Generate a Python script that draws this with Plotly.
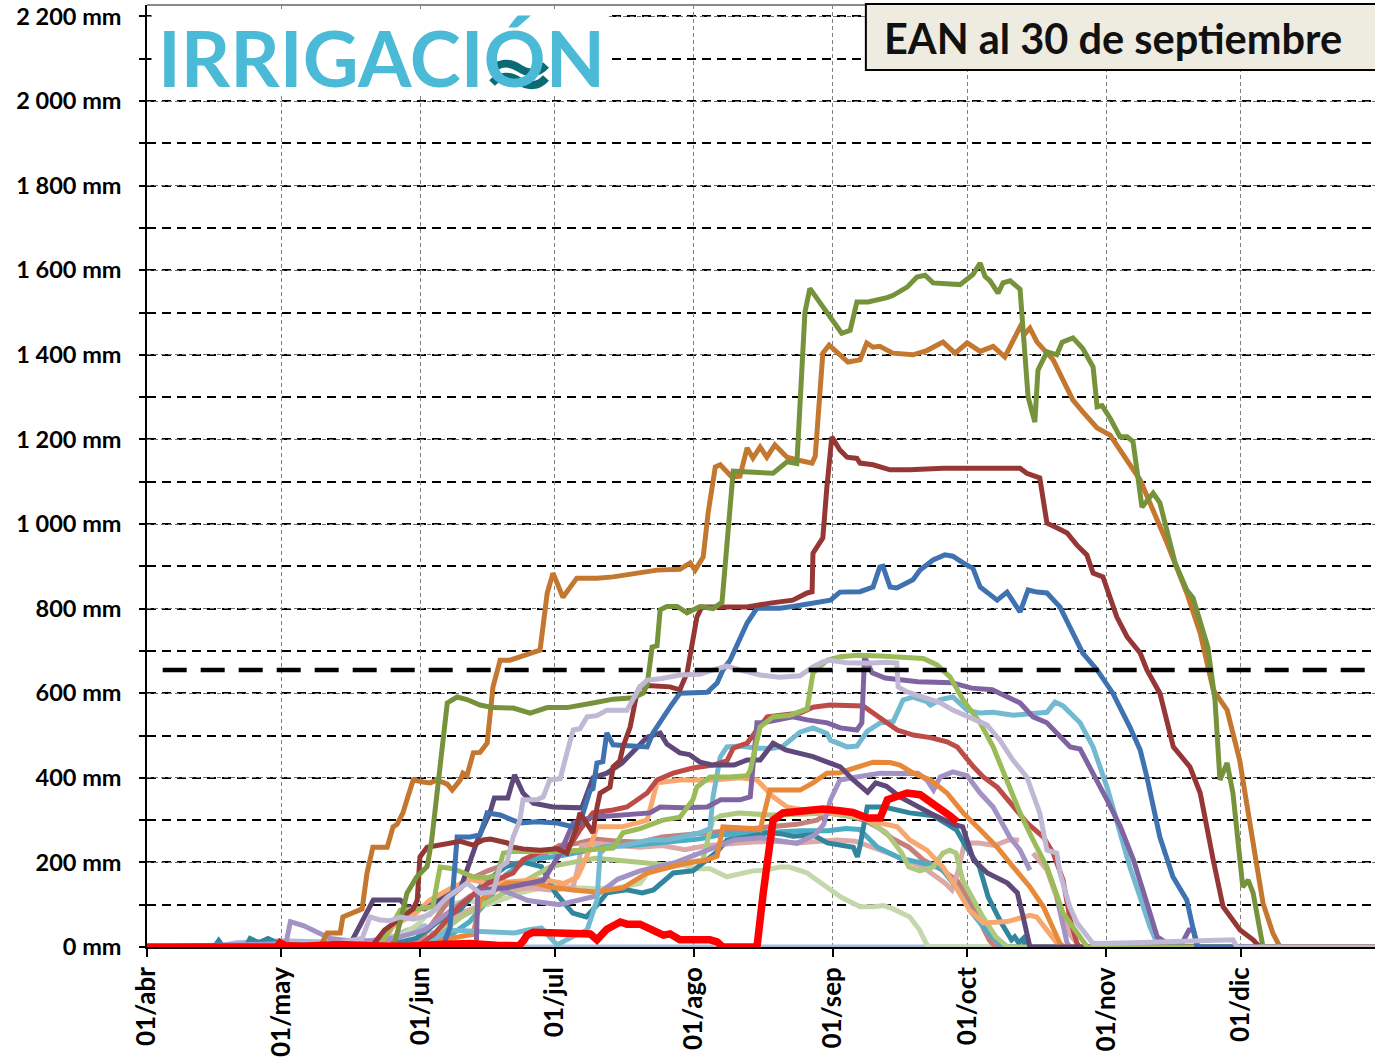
import plotly.graph_objects as go

# x = days since 1 April; y = mm
MONTH_TICKS = [0, 30, 61, 91, 122, 153, 183, 214, 244]
MONTH_LABELS = ["01/abr", "01/may", "01/jun", "01/jul", "01/ago", "01/sep", "01/oct", "01/nov", "01/dic"]
Y_TICKS = [0, 200, 400, 600, 800, 1000, 1200, 1400, 1600, 1800, 2000, 2200]
Y_LABELS = ["0 mm", "200 mm", "400 mm", "600 mm", "800 mm", "1 000 mm", "1 200 mm", "1 400 mm",
            "1 600 mm", "1 800 mm", "2 000 mm", "2 200 mm"]
THRESHOLD_MM = 655
TITLE = "EAN al 30 de septiembre"
LOGO = "IRRIGACIÓN"

A_X = [0, 55, 56.5, 58, 60.2, 62.5, 63.5, 65.4, 67, 69.2, 71.4, 74.3, 77.2, 81.7, 85.5, 89.3, 93.7, 99.5, 104, 108.5,
       110.7, 111.6, 112.7, 113.8, 114.5, 116, 118.3, 120.5, 123.4, 126.3, 128.3, 130.8, 139.7, 142.8, 145, 146.8,
       147.9, 155, 156.9, 158.4, 160.9, 165.1, 166.4, 169.6, 171.8, 173.6, 175.4, 181.4, 184.3, 185.9, 187, 188.1,
       189.9, 191, 192.6, 194.8, 196.6, 198.1, 198.8, 200.8, 203, 204.2, 206.6, 208.8, 211.1, 212, 213.1, 214.9,
       217.1, 218.7, 220, 221.1, 222, 224.5, 226, 229.4, 232, 233.4, 236.7, 238.3, 239.4, 241, 242.3, 244.5, 245.7,
       246.8, 249, 274]
A_Y = [0, 0, 60, 127, 166, 190, 250, 442, 577, 591, 585, 572, 566, 565, 553, 566, 566, 577, 586, 589,
       600, 620, 709, 712, 797, 805, 805, 790, 805, 800, 815, 1125, 1120, 1147, 1143, 1500,
       1557, 1451, 1458, 1525, 1525, 1535, 1540, 1560, 1584, 1588, 1570, 1566, 1590, 1617, 1585, 1575,
       1546, 1570, 1575, 1555, 1300, 1241, 1364, 1407, 1400, 1430, 1440, 1415, 1371, 1277, 1280, 1250,
       1206, 1206, 1195, 1111, 1040, 1073, 1050, 908, 844, 825, 709, 584, 395, 435, 364, 142, 158,
       128, 0, 0]

B_X = [0, 38.6, 40.2, 43.1, 43.7, 46.9, 48, 49.1, 50.4, 53.6, 54.9, 55.8, 57.1, 58, 59.4, 61.6, 63.2, 64.7, 67,
       68.1, 69.9, 70.5, 71.4, 72.8, 74.3, 75.9, 77.2, 78.8, 81, 83.2, 87.7, 89.3, 90.6, 92.8, 95.9, 100.4, 104,
       113.8, 118.9, 121.2, 122.3, 124.1, 125.2, 126.8, 127.9, 130.5, 132.3, 133.9, 135.2, 136.8, 138.3, 140.1,
       142.8, 145.7, 148.4, 149.1, 150.8, 152.2, 154.6, 156.4, 159.1, 160.6, 162, 163.5, 166.4, 170.9, 174,
       177.6, 180.3, 183, 185.9, 188.8, 191.4, 194.8, 195.9, 197, 198.6, 202.2, 204.4, 206.6, 208.8, 212,
       214.9, 217.1, 221.6, 227.6, 232, 235, 237.9, 241, 243.8, 246.8, 249, 251.2, 252.8, 274]
B_Y = [0, 0, 33, 33, 71, 87, 90, 175, 236, 236, 284, 290, 317, 348, 395, 390, 388, 395, 385,
       371, 395, 411, 405, 459, 460, 482, 615, 678, 678, 686, 702, 837, 884, 827, 872, 872, 875,
       891, 893, 908, 891, 922, 1026, 1135, 1140, 1111, 1113, 1180, 1156, 1182, 1158, 1187,
       1158, 1150, 1144, 1160, 1404, 1423, 1400, 1383, 1388, 1428, 1418, 1420, 1404, 1400, 1410,
       1430, 1404, 1428, 1408, 1420, 1395, 1466, 1450, 1463, 1430, 1388, 1340, 1293, 1265, 1227,
       1210, 1175, 1104, 955, 837, 742, 608, 560, 442, 246, 104, 33, 0, 0]

C_X = [0, 50, 53, 57, 59.4, 60.3, 60.9, 62.5, 67, 69.9, 72.8, 75, 76.6, 80.4, 81.7, 83.9, 87.7, 91.5, 93.7,
       95.9, 96.6, 98.2, 99.5, 100.4, 101.1, 103.3, 104, 105.5, 106.2, 107.8, 109.3, 110, 111.6, 116.7, 118.9,
       120.5, 121.6, 122.7, 123.8, 129.4, 133.9, 139, 144.1, 147.3, 148.4, 148.6, 150.8, 151.7, 152.8, 154.6,
       156.2, 158.4, 159.1, 162, 165.8, 170.2, 177.6, 194.8, 196.3, 199.2, 200.8, 203, 205.3, 207.5, 209.7,
       211.1, 213.3, 216.4, 218.7, 221.6, 223.1, 226, 229, 232.7, 235, 237.9, 240.1, 243.9, 246.8, 248.3, 274]
C_Y = [0, 0, 40, 70, 90, 111, 213, 236, 246, 250, 241, 253, 255, 246, 236, 232, 229, 232, 222,
       284, 317, 290, 270, 330, 364, 378, 426, 440, 473, 520, 600, 615, 618, 615, 608,
       648, 719, 780, 804, 804, 804, 813, 820, 837, 840, 931, 967, 1087, 1206, 1175,
       1158, 1155, 1144, 1140, 1128, 1128, 1132, 1132, 1120, 1109, 1002, 991, 979, 950, 927,
       884, 875, 780, 733, 695, 655, 600, 473, 426, 364, 206, 95, 40, 17, 0, 0]

D_X = [0, 66, 67.6, 69.2, 72.1, 74.3, 75.9, 78.8, 83.2, 87, 91.5, 95.1, 96.6, 98.9, 99.5, 100.4, 101.7, 102.6,
       104, 108.4, 111.6, 112.9, 115.1, 116.7, 118.9, 125, 127.2, 128.5, 130.1, 132.3, 133.9, 136.1, 141.2,
       144.1, 148.6, 152.5, 154.6, 159.1, 162, 163.5, 164.2, 165.8, 167.3, 170.9, 172.5, 175.4, 178, 179.8,
       182.1, 184.3, 185.9, 188.8, 189.7, 191.9, 194.8, 196.6, 198.6, 200.8, 203.7, 205.9, 208.8, 212, 215.5,
       219.3, 221.6, 223.1, 226, 228.9, 232, 234.3, 274]
D_Y = [0, 0, 47, 260, 260, 265, 317, 312, 293, 296, 293, 284, 293, 371, 374, 435, 438, 506,
       478, 475, 473, 506, 544, 567, 600, 602, 624, 655, 678, 733, 766, 801, 801,
       805, 813, 820, 839, 840, 851, 898, 900, 851, 849, 868, 891, 915, 927, 924,
       908, 895, 851, 825, 820, 839, 792, 844, 839, 837, 804, 757, 695, 655, 600,
       520, 466, 402, 260, 166, 111, 0, 0]

E_X = [0, 40, 48, 49.8, 52, 54.2, 56.5, 59.4, 63.1, 67, 71.4, 74.3, 77.2, 78.8, 80.3, 81.7, 83.2, 83.9, 87,
       88.4, 89.9, 92.2, 93.7, 95.1, 96.6, 98.2, 100.4, 102.6, 107.1, 108.4, 110, 111.6, 114.5, 118.9, 123.4,
       126.3, 129.4, 132.3, 136.8, 141.2, 145.7, 148.6, 150.8, 152.4, 156.2, 160.7, 165.1, 167.3, 167.6,
       169.6, 173.1, 176.9, 179.8, 183, 187.4, 190.3, 193.2, 196.3, 199.2, 200.8, 203, 203.7, 205.9, 207.5,
       209.7, 211.1, 220, 230, 242.3, 243.2, 274]
E_Y = [0, 5, 20, 71, 64, 62, 71, 66, 76, 118, 151, 127, 130, 189, 200, 260, 300, 348, 348,
       355, 395, 398, 459, 513, 516, 544, 547, 560, 560, 584, 615, 631, 634, 643, 645,
       655, 664, 655, 643, 638, 641, 662, 674, 678, 672, 671, 673, 671, 615,
       603, 591, 578, 560, 544, 525, 489, 442, 402, 317, 229, 222, 175, 95, 57,
       24, 8, 10, 12, 17, 0, 0]

F_X = [0, 52, 54, 56.5, 60, 63.8, 64.7, 65.4, 68.3, 72.8, 75.9, 78.1, 79.5, 81.7, 92.2, 99.5, 104, 106.2, 110,
       115.1, 118.9, 121.8, 122.7, 125.6, 130.1, 133.9, 134.6, 136.8, 139.7, 143.5, 146.4, 147.3, 148.6,
       151.8, 154.7, 158.5, 163.6, 168.7, 173.2, 176.3, 179.2, 182.1, 185.9, 188.8, 191.9, 194.8, 197.7,
       200.8, 204.4, 206.6, 209.8, 274]
F_Y = [0, 0, 40, 87, 90, 95, 150, 189, 185, 166, 164, 170, 222, 226, 226, 230, 234, 270, 280,
       300, 307, 348, 378, 402, 402, 405, 418, 520, 544, 548, 560, 563, 648,
       678, 686, 690, 688, 684, 682, 667, 638, 584, 530, 473, 395, 317, 253,
       189, 80, 47, 0, 0]

G_X = [0, 73, 73.5, 73.8, 80.3, 85, 88.5, 92.2, 95.1, 97, 99.5, 112.2, 114.5, 119.6, 125, 128, 132.3, 134.6,
       136.1, 137.5, 139.7, 144.1, 147.3, 151.8, 154.7, 158.4, 159.5, 160.1, 161.8, 164.7, 172, 179.6, 184,
       188.6, 194.8, 197.7, 200.8, 203.7, 206, 208.2, 211.1, 214.2, 217.2, 220.1, 223.1, 225.4, 227.5, 231,
       232.5, 233.5, 234.5, 274]
G_Y = [0, 0, 10, 135, 140, 150, 158, 222, 293, 300, 307, 317, 331, 329, 331, 348, 348, 355,
       530, 530, 535, 544, 537, 530, 518, 513, 530, 686, 648, 636, 627, 625, 612,
       608, 577, 544, 530, 496, 473, 468, 411, 348, 284, 206, 104, 24, 10, 10,
       40, 40, 0, 0]

H_X = [0, 45, 50.5, 56.5, 58, 62, 70, 74, 76.5, 77.5, 80.5, 82, 83.9, 86.2, 90.6, 95.1, 97, 99.5, 102.6, 106,
       109, 111.6, 114.5, 116, 118.9, 121, 123.4, 126.3, 131, 133.9, 136.8, 139.7, 142.5, 145.7, 148.6, 151.8,
       154.7, 157.6, 160.8, 162.6, 165, 168, 175, 180, 182, 184.4, 187.5, 192, 194.2, 195.5, 196.6, 197, 274]
H_Y = [0, 0, 111, 111, 95, 90, 140, 260, 317, 352, 352, 407, 364, 340, 331, 330, 329, 400, 411, 435,
       470, 496, 506, 480, 459, 455, 437, 430, 430, 442, 442, 482, 466, 459, 450, 437,
       426, 395, 366, 388, 380, 355, 315, 290, 284, 206, 175, 151, 128, 71, 9, 0, 0]

I_X = [0, 60, 64, 70, 76, 81.7, 83.9, 87.7, 89.9, 92.2, 94.4, 96.6, 99.5, 104, 107.1, 111.6, 113.8, 117.4, 121.8,
       126.3, 129.4, 130.8, 133.9, 136.1, 138.4, 142.8, 145.7, 148.6, 152.4, 159.8, 163.6, 167.4, 171, 174.8,
       178.5, 180.8, 184.4, 186.6, 189.7, 193.3, 196.4, 200, 202.2, 204.4, 206, 207.5, 208, 274]
I_Y = [0, 0, 30, 100, 150, 175, 206, 225, 229, 236, 240, 277, 317, 324, 331, 364, 395, 411, 423,
       430, 440, 470, 482, 513, 544, 550, 553, 567, 572, 570, 541, 513, 501, 495,
       485, 473, 426, 402, 378, 331, 293, 260, 222, 158, 64, 9, 0, 0]

J_X = [0, 62, 67, 75, 82, 85, 88, 91.5, 93, 95, 98.2, 100.4, 101.1, 102.6, 106.2, 112.3, 116, 119.6, 123.4,
       125.6, 126.3, 127.9, 129.4, 132.3, 136.1, 139.7, 141.9, 145.7, 148.6, 151.7, 152.5, 156.2, 158.4,
       160.7, 163.6, 166.5, 168.7, 170.9, 174, 174.8, 177, 179.8, 183, 185.9, 188.8, 193.3, 197.7, 200.8,
       202.6, 204.4, 208.2, 211.1, 214.2, 216.4, 219.3, 221.6, 223.8, 225.4, 226, 274]
J_Y = [0, 0, 40, 35, 33, 40, 45, 5, 15, 25, 40, 111, 222, 236, 240, 253, 253, 262, 270,
       280, 355, 449, 473, 475, 470, 470, 475, 508, 518, 505, 489, 473, 475,
       510, 530, 533, 584, 591, 580, 572, 585, 591, 560, 553, 555, 548, 552, 555,
       579, 570, 530, 473, 378, 293, 189, 118, 47, 9, 0, 0]

K_X = [0, 60, 65, 72.8, 74.3, 80.3, 87, 90, 95, 100, 103.3, 106.2, 111.6, 118.9, 125, 127.2, 128.5, 131, 135,
       136.8, 139, 142, 145.7, 148.6, 151.7, 154.6, 156.2, 158.4, 162, 165.8, 168, 171, 174.8, 178.5, 182.1,
       185.9, 189.7, 193.3, 197, 200, 202.2, 203.7, 204.5, 274]
K_Y = [0, 0, 15, 30, 111, 151, 150, 142, 135, 130, 135, 140, 175, 195, 206, 215, 284, 283, 280,
       277, 371, 371, 371, 388, 411, 412, 418, 425, 437, 436, 430, 411, 395, 364, 317,
       277, 236, 189, 142, 95, 47, 9, 0, 0]

L_X = [0, 28, 31, 32, 35, 38, 41, 45, 50, 55, 62, 67, 72, 78, 85, 92, 100, 105, 110, 118, 125, 131, 137, 145,
       149, 151, 152.5, 154.6, 158.4, 163.6, 168, 172, 174, 175.5, 177, 179.8, 183, 185.9, 188.8, 192.5, 194.8,
       197, None, 203, 205.3, 206, 274]
L_Y = [0, 5, 8, 60, 50, 35, 20, 15, 15, 20, 40, 80, 120, 140, 110, 100, 120, 160, 180, 200, 230, 253, 258, 245,
       265, 290, 348, 395, 402, 411, 410, 411, 395, 371, 402, 414, 405, 364, 331, 260, 229,
       182, None, 118, 9, 0, 0]

M_X = [0, 52, 55, 60, 63, 68, 72, 76, 82, 88, 93, 96, 98, 100.4, 106, 111.6, 113.8, 118.9, 126.3, 132.3, 136.1,
       139.7, 142.8, 148.6, 156.2, 160.7, 167.4, 170.2, 174, 177.6, 180.5, 183.5, 186.6, 192, 197, 198.5, 200.8,
       203.7, 274]
M_Y = [0, 0, 50, 80, 110, 140, 160, 150, 155, 160, 150, 165, 210, 284, 284, 300, 388, 395, 395, 400, 395,
       355, 331, 320, 317, 300, 284, 253, 229, 189, 142, 87, 57, 60, 75, 71, 40,
       0, 0]

N_X = [0, 15, 16, 17, 22, 23, 25, 27, 30, 50, 54, 56, 60, 65, 70, 75, 80, 84, 88, 91, 95, 98, 100.5, 102.6, 107,
       110.5, 113, 117.4, 121.8, 125, 127.2, 129.4, 133.9, 138.4, 141.3, 144.1, 148.6, 151.8, 154.7, 157.6,
       158.5, 159.1, 160.7, 164.5, 170.2, 175.5, 180.6, 182.8, 185.7, 187.7, 190.6, 192.9, 193.6, 194.5, 195.5,
       196, 274]
N_Y = [0, 0, 15, 0, 0, 20, 10, 20, 5, 5, 20, 10, 20, 60, 90, 150, 190, 200, 190, 130, 80, 71, 100, 128, 135,
       128, 135, 175, 180, 206, 225, 253, 260, 270, 268, 262, 265, 246, 240, 236,
       213, 240, 331, 331, 317, 310, 277, 236, 190, 118, 57, 17, 24, 10, 20,
       0, 0]

P_X = [0, 60, 68, 72, 76, 80, 84, 88, 92, 97, 103, 108, 113, 118, 123, 128, 134, 140, 146, 152, 156, 159, 163,
       168, 173, 177, 180.5, 184.1, 187.8, 190, 191, 274]
P_Y = [0, 0, 30, 60, 110, 170, 200, 210, 215, 225, 238, 240, 245, 250, 255, 265, 268, 272, 275, 275, 280, 278, 236,
       210, 200, 189, 142, 80, 33, 9, 0, 0]

Q_X = [0, 62, 66, 70, 75, 80, 85, 90, 95, 96, 97, 100, 105, 110, 115, 120, 125, 130, 135, 140, 145, 150, 154,
       158, 165.5, 173, 178.1, 179.6, 181, 182.4, 185.5, 189.1, 190.7, 192.3, 194.6, None, 197.7, 200.8,
       203.7, 205.9, 208.2, 274]
Q_Y = [0, 0, 40, 80, 100, 130, 140, 135, 140, 180, 240, 245, 240, 236, 240, 230, 240, 245, 248, 250, 246, 250, 253,
       250, 222, 190, 151, 135, 180, 246, 246, 240, 248, 253, 253, None, 222, 182,
       95, 30, 0, 0]

R_X = [0, 25, 26, 30, 35, 58, 62, 68, 72, 76, 80, 84, 88, 92, 96, 100, 105, 110, 115, 120, 125, 130, 135, 140,
       145, 149.5, 152, 156.2, 160, 163.5, 166.4, 170, 173.2, 176.9, 180.7, 183.5, 185.7, 187.9, 189.3, 274]
R_Y = [0, 0, 15, 10, 0, 0, 30, 120, 160, 180, 195, 200, 215, 240, 245, 255, 250, 248, 260, 265, 270, 275, 280, 285,
       290, 300, 317, 310, 300, 280, 256, 236, 206, 185, 158, 111, 64, 17, 0, 0]

S_X = [0, 55, 57, 60, 63, 67, 72, 76, 80, 84, 88, 92, 96, 100, 105, 110, 112.2, 117.4, 119.6, 122.7, 125.6, 129.4,
       132.3, 135.2, 138.1, 141.2, 143.3, 145.4, 147.3, 148.6, 151.8, 154.8, 159.1, 162, 164.3, 166.5, 170.2,
       172.4, 173.8, 174.5, 274]
S_Y = [0, 0, 30, 50, 80, 100, 110, 100, 115, 130, 140, 145, 140, 138, 140, 150, 182, 189, 194, 185, 185, 166,
       172, 180, 182, 189, 189, 180, 175, 165, 142, 118, 95, 95, 98, 90, 71,
       40, 9, 0, 0]

T_X = [0, 60, 65, 70, 75, 80, 85, 90, 95, 100, 105, 110, 115, 120, 124, 126.2, 128, 132, 139, 146, 151.8, 156,
       160, 165, 168.4, 170, 172.4, 175.4, 177.6, 179.1, 180.5, 182, 184.3, 186.5, 189.4, 191, 192, 274]
T_Y = [0, 0, 30, 70, 100, 130, 160, 190, 200, 210, 205, 200, 195, 200, 205, 300, 310, 317, 312, 314, 317, 310,
       305, 270, 222, 189, 180, 189, 222, 229, 222, 158, 111, 71, 24, 9, 0, 0]

U_X = [0, 15, 20, 30, 40, 50, 55, 58, 62, 65, 68, 274]
U_Y = [0, 0, 10, 15, 12, 15, 25, 40, 50, 20, 0, 0]

V_X = [0, 29, 29.7, 31, 35, 43, 50, 58, 65, 72, 78, 83, 84, 84.8, 86.2, 89.3, 93.7, 98.9, 100.4, 102.6, 105.6,
       107.1, 110, 112.9, 115.2, 116.7, 118.9, 125.6, 127.2, 128.5, 136.1, 137.5, 139.7, 141.9, 147.3, 150.8,
       154.6, 157.5, 160.7, 163.6, 165.2, 167.4, 169.6, 172.5, 175.4, 177.7, 179.2, 180.8]
V_Y = [0, 0, 10, 3, 2, 6, 3, 2, 6, 8, 4, 3, 15, 28, 35, 33, 31, 31, 17, 42, 59,
       54, 54, 40, 28, 31, 17, 17, 12, 0, 0, 128, 300, 317, 324, 326,
       322, 318, 305, 305, 348, 355, 364, 360, 340, 322, 310, 296]

LW = 5
series = [
    (U_X, U_Y, "#A7BBDB", LW),
    (S_X, S_Y, "#C5D8AC", LW),
    (R_X, R_Y, "#C4807B", LW),
    (Q_X, Q_Y, "#DBAAA8", LW),
    (P_X, P_Y, "#4BACC6", LW),
    (N_X, N_Y, "#31859C", LW),
    (T_X, T_Y, "#AEC87F", LW),
    (M_X, M_Y, "#F8A86F", LW),
    (L_X, L_Y, "#A393C4", LW),
    (K_X, K_Y, "#E8893A", LW),
    (J_X, J_Y, "#72B9D1", LW),
    (I_X, I_Y, "#BE4B48", LW),
    (H_X, H_Y, "#5F497A", LW),
    (G_X, G_Y, "#8064A2", LW),
    (F_X, F_Y, "#9BBB59", LW),
    (D_X, D_Y, "#3F72B0", LW),
    (C_X, C_Y, "#953735", LW),
    (B_X, B_Y, "#C4772F", LW),
    (A_X, A_Y, "#76933C", LW),
    (E_X, E_Y, "#C0B8D4", LW),
    (V_X, V_Y, "#FF0000", 7.5),
]

fig = go.Figure()
for xs, ys, col, w in series:
    fig.add_trace(go.Scatter(x=xs, y=ys, mode="lines", line=dict(color=col, width=w),
                             connectgaps=False, hoverinfo="skip", showlegend=False))

FONT = "Lato"
W, H = 1376, 1059
ML, MR, MT, MB = 147, 1, 5, 112
fig.update_layout(
    width=W, height=H,
    margin=dict(l=ML, r=MR, t=MT, b=MB),
    paper_bgcolor="white", plot_bgcolor="white",
    font=dict(family=FONT, color="black"),
    showlegend=False,
)
fig.update_xaxes(
    range=[0, 274], tickmode="array", tickvals=MONTH_TICKS, ticktext=MONTH_LABELS,
    tickangle=-90, tickfont=dict(size=26, family=FONT, weight="bold"),
    showgrid=True, gridcolor="#808080", gridwidth=1, griddash="4px,3px",
    ticks="outside", ticklen=8, tickwidth=1.5, tickcolor="black",
    showline=True, linecolor="black", linewidth=1.5, zeroline=False,
)
fig.update_yaxes(
    range=[0, 2227], tickmode="array", tickvals=Y_TICKS, ticktext=Y_LABELS,
    tickfont=dict(size=23.5, family=FONT, weight="bold"), ticklabelstandoff=13,
    showgrid=True, gridcolor="#707070", gridwidth=1, griddash="4px,3px",
    ticks="outside", ticklen=6, tickwidth=1.5, tickcolor="black",
    showline=True, linecolor="black", linewidth=1.5, zeroline=False,
    minor=dict(dtick=100, tick0=100, showgrid=True, gridcolor="black", gridwidth=1.5,
               griddash="9px,6px", ticks="outside", ticklen=6, tickcolor="black"),
)

# top border
fig.add_shape(type="line", xref="paper", yref="paper", x0=0, x1=1, y0=1, y1=1,
              line=dict(color="#8a8a8a", width=2), layer="above")
# threshold line
fig.add_shape(type="line", xref="x", yref="y", x0=3.5, x1=274, y0=THRESHOLD_MM, y1=THRESHOLD_MM,
              line=dict(color="black", width=4.5, dash="24px,14px"), layer="above")
# title box
fig.add_shape(type="rect", xref="x", yref="paper", x0=160.4, x1=275, y0=0.931, y1=1.001,
              fillcolor="#EEECE1", line=dict(color="black", width=2), layer="above")
fig.add_annotation(x=164.0, y=2150, xref="x", yref="y", text="<b>" + TITLE + "</b>", showarrow=False,
                   xanchor="left", yanchor="middle", font=dict(size=41.5, family=FONT, color="#111111"))
# logo
fig.add_shape(type="rect", xref="x", yref="y", x0=1.0, x1=102.5, y0=2012, y1=2215,
              fillcolor="white", line=dict(width=0), layer="above")
fig.add_annotation(x=1.9, y=2103, xref="x", yref="y", text="<b>" + LOGO + "</b>", showarrow=False,
                   xanchor="left", yanchor="middle", font=dict(size=77, family=FONT, color="#4BBAD6"))


# logo waves (decoration drawn in page pixels, converted to paper coordinates)
def px(xp, yp):
    return (xp - ML) / (W - ML - MR), (H - MB - yp) / (H - MB - MT)


def path(points):
    parts = []
    for cmd, pts in points:
        coords = " ".join("%.5f,%.5f" % px(a, b) for a, b in pts)
        parts.append(cmd + " " + coords)
    return " ".join(parts)


x0c, y0c = px(489, 58)
x1c, y1c = px(549, 91)
fig.add_shape(type="rect", xref="paper", yref="paper", x0=x0c, x1=x1c, y0=y1c, y1=y0c,
              fillcolor="white", line=dict(width=0), layer="above")
for dy in (0, 13):
    fig.add_shape(type="path", xref="paper", yref="paper", layer="above",
                  path=path([("M", [(492, 70 + dy)]),
                             ("C", [(500, 62 + dy), (510, 62 + dy), (519, 68 + dy)]),
                             ("S", [(538, 74 + dy), (546, 65 + dy)])]),
                  line=dict(color="#0B6A73", width=8))

fig.write_html("out.html", config={"displayModeBar": False},
               post_script="document.body.style.margin='0';document.body.style.overflow='hidden';")
